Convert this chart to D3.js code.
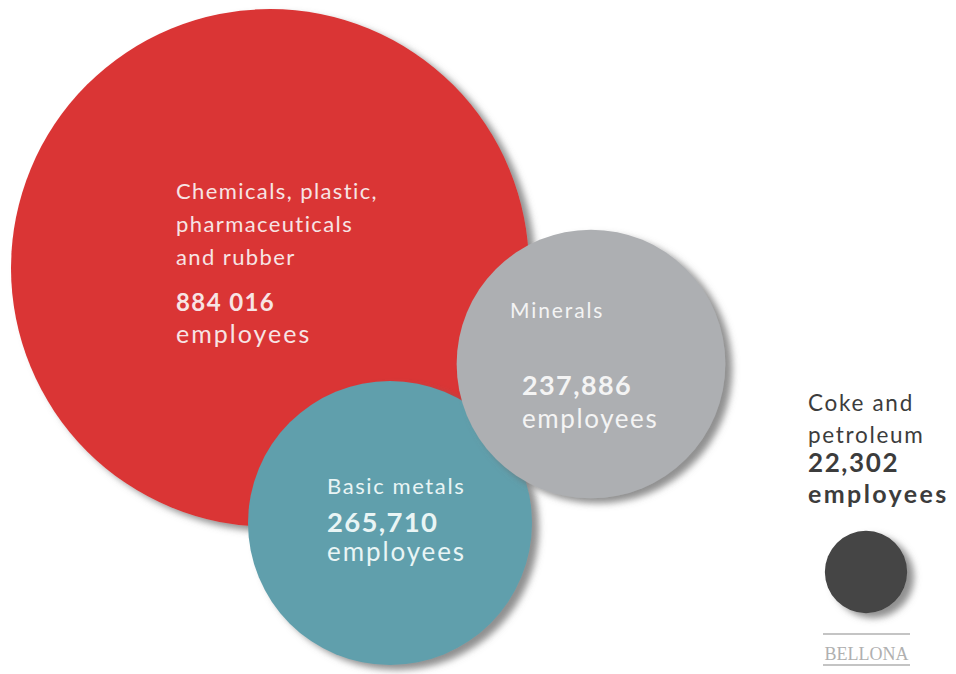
<!DOCTYPE html>
<html>
<head>
<meta charset="utf-8">
<script src="https://cdn.jsdelivr.net/npm/d3@7"></script>
<style>
  html, body { margin: 0; padding: 0; background: #ffffff; }
  svg { display: block; }
</style>
</head>
<body>
<svg id="chart" width="956" height="674"></svg>
<script>
// ---- data ----
const categories = ["Chemicals, plastic, pharmaceuticals and rubber", "Basic metals", "Minerals", "Coke and petroleum"];
const employees = [884016, 265710, 237886, 22302];
const valueLabels = ["884 016", "265,710", "237,886", "22,302"];
const labelLines = [
  ["Chemicals, plastic,", "pharmaceuticals", "and rubber"],
  ["Basic metals"],
  ["Minerals"],
  ["Coke and", "petroleum"]
];
const unitLabel = "employees";

// ---- layout / style (not data) ----
const centers = [[270, 268], [390, 523], [591, 364], [866, 572]];
const fills = ["#da3535", "#609fac", "#adafb2", "#444444"];
const textColors = ["#f7e4e4", "#e9f5f5", "#f4f4f4", "#3c3c3c"];
const textLayout = [
  {x: 176, lines: [199, 232, 265], lineSize: 22, lineSp: 1.4, val: 311, valSize: 24, valSp: 1.4, unit: 343, unitSize: 25, unitSp: 2.0},
  {x: 327, lines: [494], lineSize: 22, lineSp: 1.6, val: 532, valSize: 27.5, valSp: 1.3, unit: 561, unitSize: 26, unitSp: 1.9},
  {x: 510, lines: [318], lineSize: 21, lineSp: 1.9, val: 395, valSize: 27, valSp: 1.4, unit: 428, unitSize: 26, unitSp: 1.6, valX: 522},
  {x: 808, lines: [411, 443], lineSize: 22.5, lineSp: 1.7, val: 472, valSize: 26, valSp: 1.6, unit: 503, unitSize: 25, unitSp: 2.4, unitBold: true}
];

const svg = d3.select("#chart");
const defs = svg.append("defs");
const f = defs.append("filter").attr("id", "shadow")
  .attr("x", "-20%").attr("y", "-20%").attr("width", "140%").attr("height", "140%");
f.append("feDropShadow").attr("dx", 7).attr("dy", 5).attr("stdDeviation", 3.5)
  .attr("flood-color", "#6b6b6b").attr("flood-opacity", 0.75);

const r = d3.scaleSqrt().domain([0, d3.max(employees)]).range([0, 259]);

const data = categories.map((c, i) => ({
  category: c, value: employees[i], valueLabel: valueLabels[i], lines: labelLines[i],
  cx: centers[i][0], cy: centers[i][1], fill: fills[i], color: textColors[i], t: textLayout[i]
}));

svg.append("g").selectAll("circle").data(data).join("circle")
  .attr("cx", d => d.cx).attr("cy", d => d.cy)
  .attr("r", d => r(d.value))
  .attr("fill", d => d.fill)
  .attr("filter", "url(#shadow)");

const FONT = "Lato, 'Open Sans', sans-serif";
const lg = svg.append("g").attr("font-family", FONT);
data.forEach(d => {
  const t = d.t;
  d.lines.forEach((ln, j) => {
    lg.append("text").attr("x", t.x).attr("y", t.lines[j])
      .attr("fill", d.color).attr("font-size", t.lineSize).attr("font-weight", 400)
      .attr("letter-spacing", t.lineSp).text(ln);
  });
  lg.append("text").attr("x", t.valX || t.x).attr("y", t.val)
    .attr("fill", d.color).attr("font-size", t.valSize).attr("font-weight", 700)
    .attr("letter-spacing", t.valSp).text(d.valueLabel);
  lg.append("text").attr("x", t.valX || t.x).attr("y", t.unit)
    .attr("fill", d.color).attr("font-size", t.unitSize).attr("font-weight", t.unitBold ? 700 : 400)
    .attr("letter-spacing", t.unitSp).text(unitLabel);
});

// Bellona mark
const bg = svg.append("g");
bg.append("line").attr("x1", 823).attr("x2", 910).attr("y1", 634).attr("y2", 634)
  .attr("stroke", "#b0b0b0").attr("stroke-width", 1.6);
bg.append("line").attr("x1", 823).attr("x2", 910).attr("y1", 665).attr("y2", 665)
  .attr("stroke", "#b0b0b0").attr("stroke-width", 1.6);
bg.append("text").attr("x", 866.5).attr("y", 660).attr("text-anchor", "middle")
  .attr("fill", "#b0b0b0")
  .style("font-family", "'Liberation Serif', 'DejaVu Serif', serif")
  .attr("font-size", 19).attr("textLength", 84).attr("lengthAdjust", "spacingAndGlyphs")
  .text("BELLONA");
</script>
</body>
</html>
